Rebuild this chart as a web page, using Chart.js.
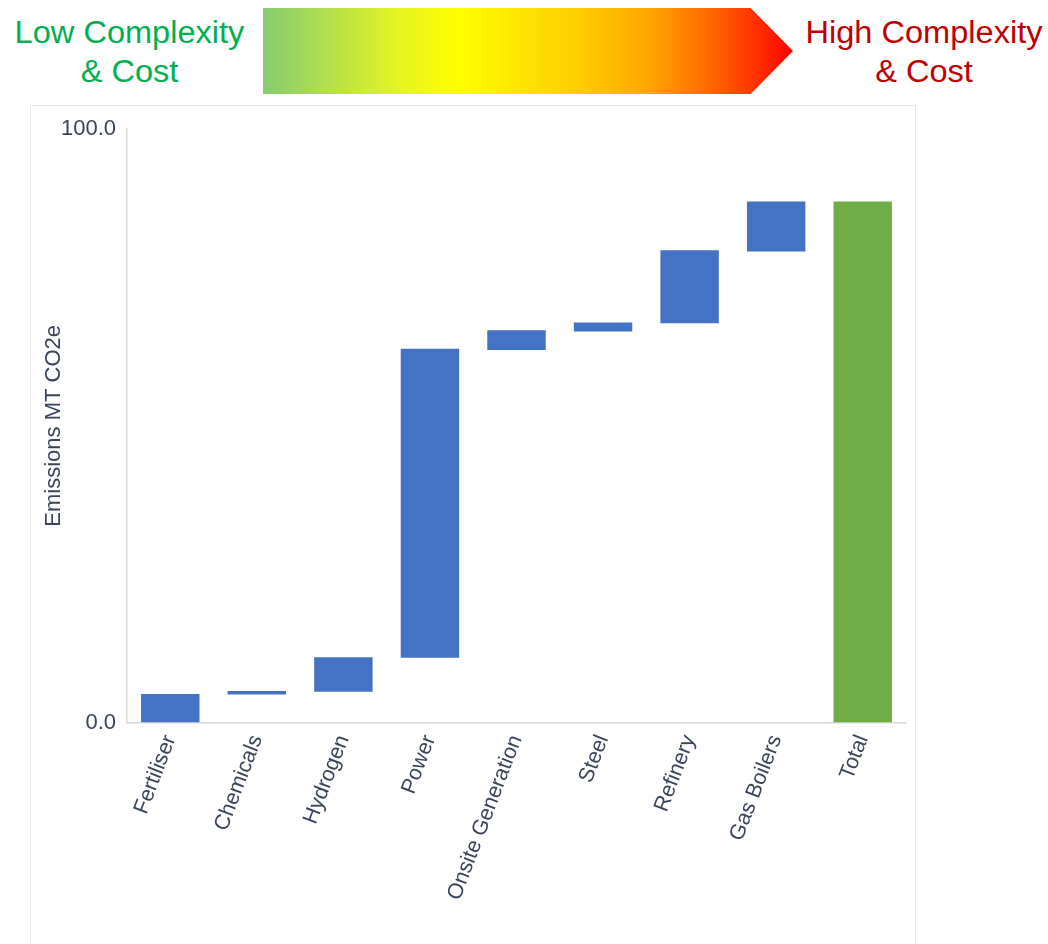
<!DOCTYPE html>
<html><head><meta charset="utf-8">
<script src="https://cdn.jsdelivr.net/npm/chart.js@4.4.1/dist/chart.umd.min.js"></script>
<style>
body{margin:0;background:#fff;width:1048px;height:944px;overflow:hidden;position:relative;font-family:"Liberation Sans",Arial,sans-serif;}
.hdr{position:absolute;top:13px;font-size:31px;line-height:39px;text-align:center;transform:scaleX(1.05);white-space:nowrap;}
#low{left:0;width:259px;color:#00b050;}
#high{left:800px;width:248px;color:#c00000;}
#arrow{position:absolute;left:263px;top:8px;width:530px;height:86px;
 clip-path:polygon(0 0,92% 0,100% 50%,92% 100%,0 100%);
 background:linear-gradient(to right,#86cc72 0%,#b9e246 14%,#e6f520 26%,#ffff00 37%,#ffe800 47%,#ffd000 58%,#ffaa00 72%,#ff6a00 84%,#ff2a00 94%,#ff0000 100%);}
#panel{position:absolute;left:30px;top:105px;width:886px;height:860px;border:1px solid #e8e8e8;box-sizing:border-box;}
#c{position:absolute;left:30px;top:105px;}
</style>
</head><body>
<div id="low" class="hdr">Low Complexity<br>&amp; Cost</div>
<div id="arrow"></div>
<div id="high" class="hdr">High Complexity<br>&amp; Cost</div>
<div id="panel"></div>
<canvas id="c" width="887" height="839"></canvas>
<script>
const categories = ['Fertiliser','Chemicals','Hydrogen','Power','Onsite Generation','Steel','Refinery','Gas Boilers','Total'];
const barStart = [0, 4.7, 5.2, 10.9, 62.8, 65.9, 67.3, 79.4, 0];
const barEnd   = [4.8, 5.3, 11.0, 63.0, 66.1, 67.4, 79.6, 87.8, 87.8];
const barKind  = ['step','step','step','step','step','step','step','step','total'];
const yTicks = [0, 100];
const yTitle = 'Emissions MT CO2e';

const FONT = '"Liberation Sans", Arial, sans-serif';
const TXT = '#39445a';
Chart.defaults.font.family = FONT;

new Chart(document.getElementById('c').getContext('2d'), {
  type: 'bar',
  data: {
    labels: categories,
    datasets: [{
      data: categories.map((c, i) => [barStart[i], barEnd[i]]),
      backgroundColor: barKind.map(k => k === 'total' ? '#70ad47' : '#4472c4'),
      borderWidth: 0,
      borderSkipped: false,
      barPercentage: 0.675,
      categoryPercentage: 1
    }]
  },
  options: {
    responsive: false,
    animation: false,
    devicePixelRatio: 1,
    layout: {padding: {top: 21, right: 11, left: 0, bottom: 0}},
    plugins: {legend: {display: false}, tooltip: {enabled: false}},
    scales: {
      x: {
        grid: {display: false, drawTicks: false},
        border: {display: true, color: '#d9d9d9', width: 1.5},
        ticks: {autoSkip: false, minRotation: 69, maxRotation: 69, padding: 9, color: TXT, font: {size: 21.5}},
        afterFit(s) { s.height = 221.5; }
      },
      y: {
        min: 0, max: 100,
        afterBuildTicks(s) { s.ticks = yTicks.map(v => ({value: v})); },
        grid: {display: false, drawTicks: false},
        border: {display: true, color: '#d9d9d9', width: 1.5},
        ticks: {padding: 11, color: TXT, font: {size: 22}, callback: v => Number(v).toFixed(1)},
        title: {display: true, text: yTitle, color: TXT, font: {size: 22}, padding: {top: 11, bottom: 0}},
        afterFit(s) { s.width = 97; }
      }
    }
  }
});
</script>
</body></html>
